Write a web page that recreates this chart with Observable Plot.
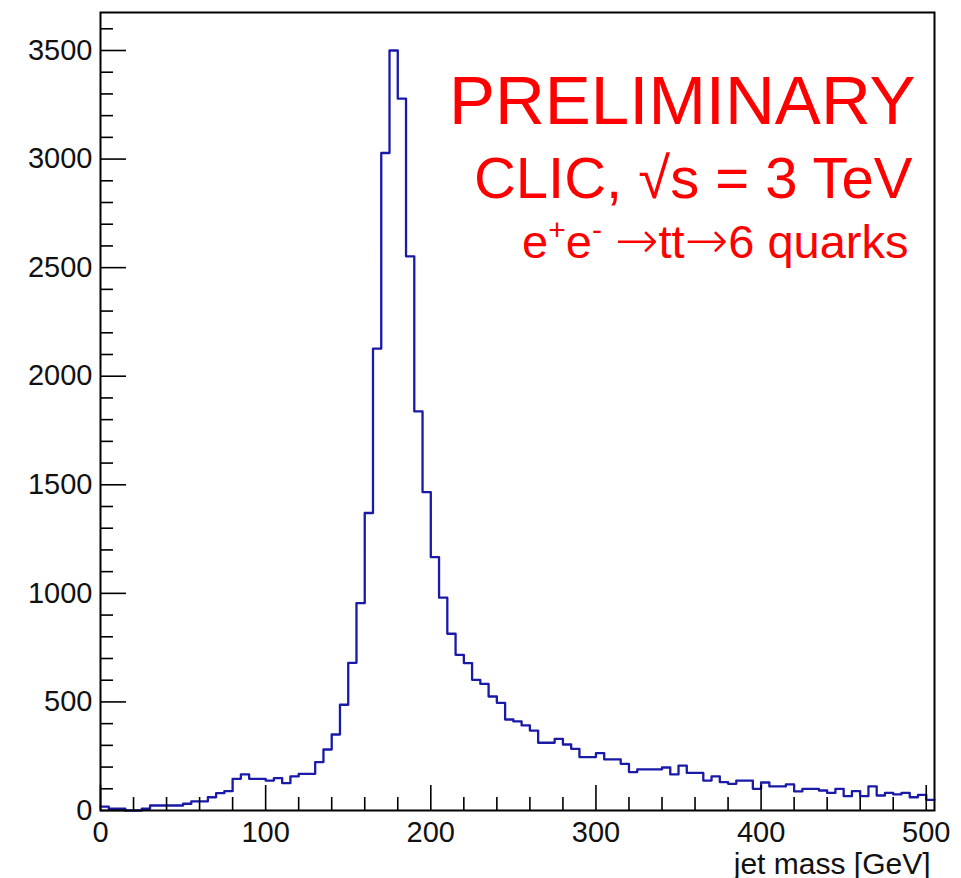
<!DOCTYPE html>
<html>
<head>
<meta charset="utf-8">
<script src="https://cdn.jsdelivr.net/npm/d3@7"></script>
<script src="https://cdn.jsdelivr.net/npm/@observablehq/plot@0.6"></script>
<style>
  html, body { margin: 0; padding: 0; background: #fff; }
</style>
</head>
<body>
<div id="chart"></div>
<script>
// Histogram: jet mass, 5 GeV bins from 0 to 505 GeV
const binWidth = 5;
const binLow = 0;
const counts = [
  18, 8, 8, 0, 0, 8, 23, 23, 23, 23,
  31, 42, 42, 61, 80, 89, 146, 166, 146, 146,
  138, 149, 126, 157, 169, 169, 223, 281, 350, 487,
  680, 955, 1370, 2127, 3028, 3500, 3278, 2552, 1838, 1466,
  1167, 980, 814, 717, 679, 602, 583, 525, 496, 419,
  410, 392, 368, 312, 312, 330, 304, 284, 246, 246,
  264, 235, 235, 215, 177, 189, 189, 189, 198, 166,
  207, 173, 173, 138, 157, 131, 123, 138, 138, 100,
  129, 111, 111, 120, 88, 100, 100, 92, 81, 100,
  66, 89, 66, 111, 69, 81, 74, 81, 61, 72,
  49
];
const xDomain = [0, 505];
const yDomain = [0, 3675];
const xMajorTicks = [0, 100, 200, 300, 400, 500];
const xMinorTicks = [20, 40, 60, 80, 120, 140, 160, 180, 220, 240, 260, 280,
                     320, 340, 360, 380, 420, 440, 460, 480];
const yMajorTicks = [0, 500, 1000, 1500, 2000, 2500, 3000, 3500];
const yMinorTicks = [100, 200, 300, 400, 600, 700, 800, 900, 1100, 1200, 1300, 1400,
                     1600, 1700, 1800, 1900, 2100, 2200, 2300, 2400, 2600, 2700, 2800, 2900,
                     3100, 3200, 3300, 3400, 3600];
const xTitle = "jet mass [GeV]";
const labelLine1 = "PRELIMINARY";
const labelLine2 = "CLIC, \u221As = 3 TeV";
const labelLine3 = "e+e- \u2192tt\u21926 quarks";

// step outline: bin edges with values (last bin closes at the upper edge)
const steps = counts.map((c, i) => ({x: binLow + i * binWidth, y: c}));
steps.push({x: binLow + counts.length * binWidth, y: counts[counts.length - 1]});

const W = 961, H = 878;
const mL = 100, mR = 27, mT = 12, mB = 68;
const frameW = W - mL - mR, frameH = H - mT - mB;
const red = "#ff0000";
const lineBlue = "#1a1aa8";

const chart = Plot.plot({
  width: W,
  height: H,
  marginLeft: mL,
  marginRight: mR,
  marginTop: mT,
  marginBottom: mB,
  style: {
    fontFamily: "'Liberation Sans', Arial, Helvetica, sans-serif",
    fontSize: "29px",
    background: "#fff",
    color: "#000",
    overflow: "visible"
  },
  x: {domain: xDomain},
  y: {domain: yDomain},
  marks: [
    Plot.line(steps, {x: "x", y: "y", curve: "step-after", stroke: lineBlue, strokeWidth: 2.3}),
    Plot.frame({stroke: "#000", strokeWidth: 2}),
    // x ticks (inward)
    Plot.tickX(xMajorTicks, {x: d => d, insetTop: frameH - 25, stroke: "#000", strokeWidth: 1.6}),
    Plot.tickX(xMinorTicks, {x: d => d, insetTop: frameH - 13, stroke: "#000", strokeWidth: 1.6}),
    // y ticks (inward)
    Plot.tickY(yMajorTicks, {y: d => d, insetRight: frameW - 26, stroke: "#000", strokeWidth: 1.6}),
    Plot.tickY(yMinorTicks, {y: d => d, insetRight: frameW - 13, stroke: "#000", strokeWidth: 1.6}),
    // tick labels
    Plot.axisX({ticks: xMajorTicks, tickSize: 0, tickPadding: 11, tickFormat: d => String(d), label: null, fill: "#111"}),
    Plot.axisY({ticks: yMajorTicks, tickSize: 0, tickPadding: 8, tickFormat: d => String(d), label: null, fill: "#111"}),
    // axis title
    Plot.text([xTitle], {text: d => d, frameAnchor: "bottom-right", textAnchor: "end", lineAnchor: "bottom",
      dx: -4, dy: 63, fontSize: 30, fill: "#111"}),
    // red annotations
    Plot.text([labelLine1], {text: d => d, frameAnchor: "top-right", textAnchor: "end", lineAnchor: "bottom",
      dx: -19, dy: 111, fontSize: 69, fill: red}),
    Plot.text([labelLine2], {text: d => d, frameAnchor: "top-right", textAnchor: "end", lineAnchor: "bottom",
      dx: -22, dy: 185, fontSize: 58, fill: red}),
    Plot.text([labelLine3], {text: d => d, frameAnchor: "top-right", textAnchor: "end", lineAnchor: "bottom",
      dx: -26, dy: 245, fontSize: 47, fill: red})
  ]
});

// superscripts for e+ e- and wide arrows
chart.querySelectorAll("text").forEach(t => {
  if (t.textContent === labelLine3) {
    const ns = "http://www.w3.org/2000/svg";
    while (t.firstChild) t.removeChild(t.firstChild);
    const arrowFont = "'DejaVu Sans', sans-serif";
    const parts = [
      {s: "e"},
      {s: "+", size: 30, dy: -18},
      {s: "e", dy: 18},
      {s: "-", size: 30, dy: -18},
      {s: " ", dy: 18},
      {s: "\u2192", size: 52, font: arrowFont, weight: 200},
      {s: "tt"},
      {s: "\u2192", size: 52, font: arrowFont, weight: 200},
      {s: "6 quarks"}
    ];
    parts.forEach(p => {
      const ts = document.createElementNS(ns, "tspan");
      ts.textContent = p.s;
      if (p.size) ts.setAttribute("font-size", p.size);
      if (p.dy) ts.setAttribute("dy", p.dy);
      if (p.font) ts.setAttribute("font-family", p.font);
      if (p.weight) ts.setAttribute("font-weight", p.weight);
      t.appendChild(ts);
    });
  }
});

document.getElementById("chart").appendChild(chart);
</script>
</body>
</html>
